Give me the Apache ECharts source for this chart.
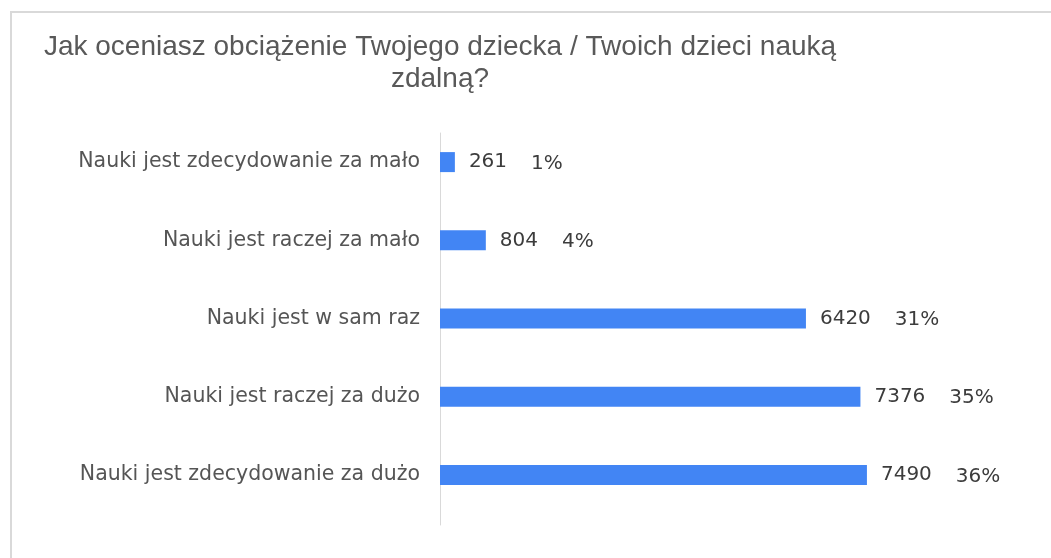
<!DOCTYPE html>
<html>
<head>
<meta charset="utf-8">
<script src="https://cdn.jsdelivr.net/npm/echarts@6/dist/echarts.min.js"></script>
<style>
  html, body { margin: 0; padding: 0; background: #fff; }
  .frame {
    position: absolute; left: 10px; top: 11px; width: 1100px; height: 600px;
    border-top: 2px solid #d9d9d9; border-left: 2px solid #d9d9d9;
  }
  #chart { position: absolute; left: 0; top: 0; width: 1051px; height: 558px; }
</style>
</head>
<body>
<div class="frame"></div>
<div id="chart"></div>
<script>
const categories = [
  'Nauki jest zdecydowanie za mało',
  'Nauki jest raczej za mało',
  'Nauki jest w sam raz',
  'Nauki jest raczej za dużo',
  'Nauki jest zdecydowanie za dużo'
]
const counts = [261, 804, 6420, 7376, 7490]
const percents = ['1%', '4%', '31%', '35%', '36%']

const chart = echarts.init(document.getElementById('chart'))
chart.setOption({
  animation: false,
  title: {
    text: 'Jak oceniasz obciążenie Twojego dziecka / Twoich dzieci nauką\nzdalną?',
    left: 440, top: 31, padding: 0, textAlign: 'center',
    textStyle: {
      fontFamily: 'Liberation Sans', fontSize: 28, fontWeight: 'normal',
      color: '#595959', lineHeight: 32
    }
  },
  grid: [
    { left: 440, right: 41, top: 123, bottom: 44 },
    // only carries the vertical axis line, which sits a bit lower than the bars
    { left: 440, right: 41, top: 133, bottom: 33 }
  ],
  xAxis: [
    { gridIndex: 0, type: 'value', min: 0, max: 10000, show: false },
    { gridIndex: 1, type: 'value', min: 0, max: 10000, show: false }
  ],
  yAxis: [
    {
      gridIndex: 0, type: 'category', data: categories, inverse: true,
      axisLine: { show: false }, axisTick: { show: false },
      axisLabel: {
        margin: 20, color: '#555555',
        fontFamily: 'DejaVu Sans', fontSize: 20.5
      }
    },
    {
      gridIndex: 1, type: 'category', data: categories,
      axisLine: { show: true, lineStyle: { color: '#d9d9d9', width: 1 } },
      axisTick: { show: false }, axisLabel: { show: false }
    }
  ],
  series: [{
    type: 'bar', xAxisIndex: 0, yAxisIndex: 0,
    data: counts, barWidth: 20,
    itemStyle: { color: '#4285f4' },
    label: {
      show: true, position: 'right', distance: 14,
      formatter: p => '{v|' + p.value + '}{p|' + percents[p.dataIndex] + '}',
      rich: {
        v: { fontFamily: 'DejaVu Sans', fontSize: 20, color: '#3c3c3c' },
        p: { fontFamily: 'DejaVu Sans', fontSize: 20, color: '#3c3c3c', padding: [3, 0, 0, 24] }
      }
    }
  }]
})
</script>
</body>
</html>
